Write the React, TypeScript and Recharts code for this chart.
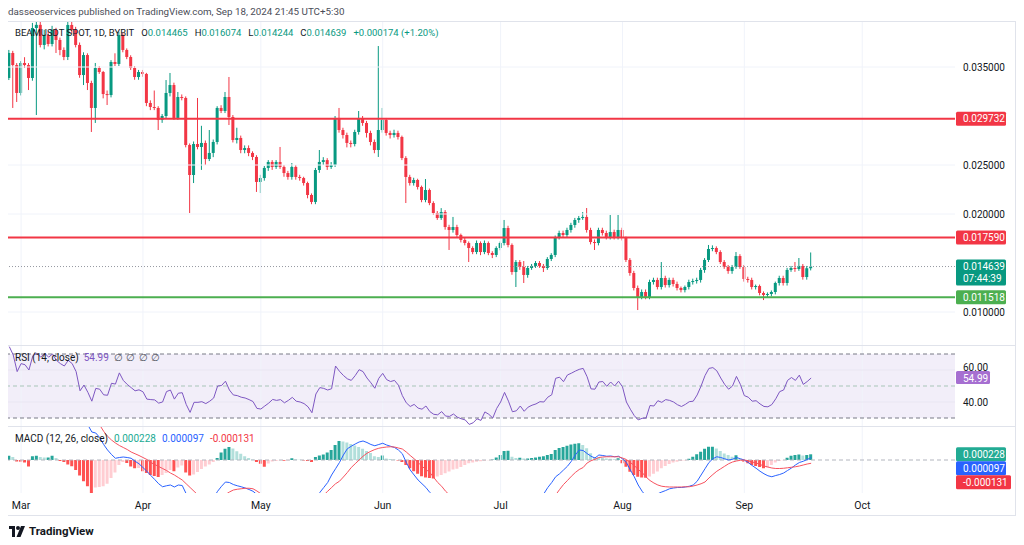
import React from "react";
import { Bar, Cell, ComposedChart, Line, ReferenceArea, ReferenceLine, XAxis, YAxis } from "recharts";

const UP = "#089981";
const DOWN = "#f23645";
const GRID = "#f0f3fa";
const TEXT = "#131722";
const FONT = "Roboto, 'Noto Sans', sans-serif";

// one candle per day, day 0 = 2024-02-27, last = 2024-09-18
const monthStarts = [3, 34, 64, 95, 125, 156, 187, 217];
const monthNames = ["Mar", "Apr", "May", "Jun", "Jul", "Aug", "Sep", "Oct"];

const opens = [
  0.03388, 0.03643, 0.0352, 0.03235, 0.03541, 0.0352, 0.03388, 0.03898, 0.0393, 0.03725,
  0.03827, 0.03735, 0.03878, 0.03776, 0.03674, 0.03602, 0.03929, 0.03878, 0.03725, 0.03418,
  0.03622, 0.03337, 0.03082, 0.0349, 0.03449, 0.03224, 0.03214, 0.03551, 0.03531, 0.03827,
  0.03674, 0.03602, 0.0349, 0.03398, 0.03449, 0.03429, 0.03133, 0.03092, 0.03082, 0.02959,
  0.03, 0.03235, 0.03316, 0.0298, 0.03194, 0.03184, 0.02704, 0.02398, 0.02714, 0.02684,
  0.02725, 0.02561, 0.02623, 0.02735, 0.03082, 0.03051, 0.03194, 0.0299, 0.02755, 0.02776,
  0.02653, 0.02673, 0.02623, 0.02582, 0.02327, 0.02367, 0.0247, 0.02531, 0.0248, 0.02531,
  0.0248, 0.02418, 0.02378, 0.0248, 0.02378, 0.02367, 0.02316, 0.02194, 0.02123, 0.02449,
  0.02531, 0.0255, 0.0248, 0.025, 0.0298, 0.02857, 0.02806, 0.02725, 0.02714, 0.02837,
  0.0298, 0.02929, 0.02827, 0.02735, 0.02653, 0.02857, 0.02959, 0.02827, 0.02806, 0.02827,
  0.02786, 0.02571, 0.02378, 0.02316, 0.02347, 0.02276, 0.02143, 0.02245, 0.02112, 0.0201,
  0.01959, 0.0202, 0.01867, 0.01837, 0.01867, 0.01786, 0.01735, 0.01704, 0.01653, 0.01612,
  0.01704, 0.01612, 0.01704, 0.01602, 0.01582, 0.01653, 0.01704, 0.01857, 0.01684, 0.01408,
  0.0151, 0.01459, 0.01378, 0.01449, 0.0147, 0.015, 0.0147, 0.01449, 0.01541, 0.01582,
  0.01765, 0.01806, 0.01786, 0.01837, 0.01888, 0.01939, 0.01959, 0.0197, 0.01837, 0.01714,
  0.01704, 0.01837, 0.01806, 0.01765, 0.01816, 0.01765, 0.01837, 0.01755, 0.01531, 0.01398,
  0.01245, 0.01153, 0.01204, 0.01153, 0.01306, 0.01327, 0.01255, 0.01347, 0.01275, 0.01327,
  0.01286, 0.01245, 0.01224, 0.01255, 0.01306, 0.01316, 0.01327, 0.01429, 0.01531, 0.01643,
  0.01653, 0.01612, 0.0151, 0.01459, 0.01418, 0.01459, 0.01571, 0.01459, 0.01337, 0.01327,
  0.01255, 0.01265, 0.01194, 0.01174, 0.01184, 0.01204, 0.01296, 0.01347, 0.01296, 0.01429,
  0.01449, 0.01439, 0.0147, 0.01357, 0.014465,
];
const highs = [
  0.03674, 0.03665, 0.0354, 0.0356, 0.036, 0.0354, 0.0395, 0.04, 0.0402, 0.0388,
  0.0386, 0.0392, 0.039, 0.038, 0.037, 0.0397, 0.0398, 0.0391, 0.0375, 0.0365,
  0.0364, 0.0336, 0.03541, 0.0351, 0.0346, 0.0326, 0.0357, 0.0364, 0.0386, 0.0385,
  0.0369, 0.0362, 0.0351, 0.0347, 0.0347, 0.0344, 0.0316, 0.0326, 0.031, 0.0302,
  0.03367, 0.03439, 0.0334, 0.03245, 0.0322, 0.032, 0.0272, 0.0274, 0.03184, 0.029,
  0.0275, 0.02857, 0.0276, 0.031, 0.0311, 0.03245, 0.03398, 0.0301, 0.0288, 0.028,
  0.027, 0.027, 0.0264, 0.026, 0.024, 0.0249, 0.0255, 0.0255, 0.0255, 0.02684,
  0.025, 0.0244, 0.0252, 0.025, 0.024, 0.0238, 0.0233, 0.0221, 0.0247, 0.02653,
  0.0258, 0.0257, 0.0253, 0.03, 0.03082, 0.0288, 0.0283, 0.0275, 0.0286, 0.03051,
  0.03, 0.0295, 0.0285, 0.0276, 0.03714, 0.03082, 0.0298, 0.0285, 0.0286, 0.0285,
  0.028, 0.0259, 0.024, 0.0237, 0.0236, 0.0229, 0.02357, 0.0226, 0.0213, 0.0203,
  0.0206, 0.0204, 0.0189, 0.0197, 0.0189, 0.018, 0.0176, 0.0172, 0.0167, 0.0173,
  0.0172, 0.0173, 0.0172, 0.0162, 0.0167, 0.0172, 0.01939, 0.0188, 0.017, 0.0153,
  0.0153, 0.0152, 0.0147, 0.0149, 0.0152, 0.0152, 0.0149, 0.0156, 0.016, 0.0178,
  0.0183, 0.0183, 0.0186, 0.0191, 0.0196, 0.0198, 0.0202, 0.02061, 0.0186, 0.0174,
  0.0186, 0.0186, 0.0183, 0.0199, 0.0184, 0.0199, 0.0186, 0.0177, 0.0155, 0.0142,
  0.0127, 0.0123, 0.0123, 0.0133, 0.0135, 0.0135, 0.0151, 0.0137, 0.0135, 0.0135,
  0.0131, 0.0126, 0.0127, 0.0133, 0.0134, 0.0135, 0.0145, 0.0155, 0.01684, 0.0168,
  0.0167, 0.0163, 0.0153, 0.0148, 0.0148, 0.01612, 0.0159, 0.0148, 0.0136, 0.0135,
  0.0128, 0.0128, 0.0121, 0.012, 0.0122, 0.0131, 0.0137, 0.0137, 0.0145, 0.0147,
  0.0151, 0.01551, 0.0149, 0.0147, 0.016074,
];
const lows = [
  0.03367, 0.03082, 0.03143, 0.0321, 0.0349, 0.03265, 0.0336, 0.0301, 0.037, 0.0368,
  0.0371, 0.0371, 0.03643, 0.0362, 0.0357, 0.03571, 0.0384, 0.037, 0.0339, 0.03316,
  0.03265, 0.02837, 0.02929, 0.0343, 0.0318, 0.03112, 0.0319, 0.0351, 0.0351, 0.0365,
  0.0358, 0.0347, 0.0337, 0.0337, 0.034, 0.031, 0.0306, 0.0306, 0.02857, 0.0293,
  0.0298, 0.032, 0.0296, 0.0296, 0.0316, 0.0268, 0.0201, 0.02316, 0.0266, 0.0245,
  0.025, 0.0254, 0.0258, 0.0271, 0.0303, 0.0303, 0.02908, 0.0273, 0.0272, 0.0262,
  0.0262, 0.0259, 0.0255, 0.02225, 0.02214, 0.0234, 0.0244, 0.0245, 0.0246, 0.0246,
  0.0238, 0.0235, 0.0235, 0.0235, 0.0234, 0.0229, 0.0216, 0.021, 0.021, 0.0242,
  0.025, 0.0245, 0.0246, 0.0248, 0.0283, 0.0277, 0.0268, 0.0268, 0.0269, 0.0281,
  0.029, 0.0278, 0.027, 0.0262, 0.02582, 0.0283, 0.028, 0.0277, 0.0278, 0.0276,
  0.0255, 0.02112, 0.0229, 0.0229, 0.0225, 0.0212, 0.0212, 0.0209, 0.0199, 0.0194,
  0.0194, 0.0184, 0.01633, 0.0181, 0.0176, 0.0171, 0.0168, 0.0151, 0.0159, 0.0159,
  0.0158, 0.0159, 0.0158, 0.0155, 0.0156, 0.0163, 0.0168, 0.0166, 0.0138, 0.01255,
  0.0143, 0.01296, 0.0135, 0.0143, 0.0145, 0.0145, 0.01408, 0.0143, 0.0152, 0.0156,
  0.0174, 0.0176, 0.0176, 0.0181, 0.0186, 0.0191, 0.0194, 0.0181, 0.0169, 0.01633,
  0.0168, 0.0178, 0.0174, 0.0174, 0.0174, 0.0174, 0.0173, 0.0151, 0.0137, 0.0122,
  0.0102, 0.0113, 0.0113, 0.0113, 0.0128, 0.0123, 0.0123, 0.0125, 0.0125, 0.0126,
  0.0122, 0.012, 0.012, 0.0123, 0.0128, 0.0129, 0.013, 0.014, 0.0151, 0.0162,
  0.0159, 0.0149, 0.0144, 0.0139, 0.0139, 0.0144, 0.0144, 0.0131, 0.013, 0.0123,
  0.0123, 0.0117, 0.01122, 0.0115, 0.0116, 0.0118, 0.0127, 0.0127, 0.0127, 0.0141,
  0.0141, 0.0142, 0.0133, 0.0133, 0.014244,
];
const closes = [
  0.03643, 0.0352, 0.03235, 0.03541, 0.0352, 0.03388, 0.03898, 0.0393, 0.03725, 0.03827,
  0.03735, 0.03878, 0.03776, 0.03674, 0.03602, 0.03929, 0.03878, 0.03725, 0.03418, 0.03622,
  0.03337, 0.03082, 0.0349, 0.03449, 0.03224, 0.03214, 0.03551, 0.03531, 0.03827, 0.03674,
  0.03602, 0.0349, 0.03398, 0.03449, 0.03429, 0.03133, 0.03092, 0.03082, 0.02959, 0.03,
  0.03235, 0.03316, 0.0298, 0.03194, 0.03184, 0.02704, 0.02398, 0.02714, 0.02684, 0.02725,
  0.02561, 0.02623, 0.02735, 0.03082, 0.03051, 0.03194, 0.0299, 0.02755, 0.02776, 0.02653,
  0.02673, 0.02623, 0.02582, 0.02327, 0.02367, 0.0247, 0.02531, 0.0248, 0.02531, 0.0248,
  0.02418, 0.02378, 0.0248, 0.02378, 0.02367, 0.02316, 0.02194, 0.02123, 0.02449, 0.02531,
  0.0255, 0.0248, 0.025, 0.0298, 0.02857, 0.02806, 0.02725, 0.02714, 0.02837, 0.0298,
  0.02929, 0.02827, 0.02735, 0.02653, 0.02857, 0.02959, 0.02827, 0.02806, 0.02827, 0.02786,
  0.02571, 0.02378, 0.02316, 0.02347, 0.02276, 0.02143, 0.02245, 0.02112, 0.0201, 0.01959,
  0.0202, 0.01867, 0.01837, 0.01867, 0.01786, 0.01735, 0.01704, 0.01653, 0.01612, 0.01704,
  0.01612, 0.01704, 0.01602, 0.01582, 0.01653, 0.01704, 0.01857, 0.01684, 0.01408, 0.0151,
  0.01459, 0.01378, 0.01449, 0.0147, 0.015, 0.0147, 0.01449, 0.01541, 0.01582, 0.01765,
  0.01806, 0.01786, 0.01837, 0.01888, 0.01939, 0.01959, 0.0197, 0.01837, 0.01714, 0.01704,
  0.01837, 0.01806, 0.01765, 0.01816, 0.01765, 0.01837, 0.01755, 0.01531, 0.01398, 0.01245,
  0.01153, 0.01204, 0.01153, 0.01306, 0.01327, 0.01255, 0.01347, 0.01275, 0.01327, 0.01286,
  0.01245, 0.01224, 0.01255, 0.01306, 0.01316, 0.01327, 0.01429, 0.01531, 0.01643, 0.01653,
  0.01612, 0.0151, 0.01459, 0.01418, 0.01459, 0.01571, 0.01459, 0.01337, 0.01327, 0.01255,
  0.01265, 0.01194, 0.01174, 0.01184, 0.01204, 0.01296, 0.01347, 0.01296, 0.01429, 0.01449,
  0.01439, 0.0147, 0.01357, 0.014465, 0.014639,
];

const rsi14 = [
  74.6, 69.4, 59, 64, 63.3, 60, 69, 70.5, 68, 70.5,
  68, 70, 66, 64, 62.5, 66, 64, 59, 47, 50.6,
  46, 40.5, 48.5, 48, 44.5, 44.2, 51.7, 51.2, 58.2, 53.5,
  51, 49, 47, 47.6, 46.4, 41.8, 41.5, 41.3, 39.3, 40,
  46.5, 47.5, 41.8, 45.5, 45.8, 38.5, 33.5, 39.8, 39.8, 40.2,
  39, 40.5, 42.5, 50, 50.3, 53, 47.5, 44.4, 44, 43,
  42.5, 41.5, 40.3, 36, 35.6, 37.5, 39.3, 41.6, 41, 41.5,
  39.5, 41, 42.9, 40.5, 40, 39, 37, 33.3, 45, 49,
  48.5, 47.5, 48.3, 62.5, 59.2, 56.6, 54.5, 53.5, 56.5, 60.2,
  59, 55, 52, 48.6, 54.8, 57.9, 54, 52.8, 53.5, 50.5,
  44, 39.5, 37.2, 38.5, 36.2, 35.5, 37.5, 34, 32.3, 32,
  34, 31.2, 31, 32.5, 30.5, 29.5, 28.8, 26, 27, 29.5,
  28.5, 33.8, 32.3, 30, 36, 40, 46, 40.5, 33.9, 34.5,
  37.5, 34.2, 36.8, 38, 38.8, 40.2, 40, 43, 44.5, 54.8,
  55.5, 52.7, 56.9, 58, 59.3, 60.4, 61, 55.8, 48.2, 48,
  52.5, 52.8, 49.8, 52.5, 50, 53, 49.5, 40, 35.5, 31.5,
  28.8, 29.8, 30, 37.8, 37.5, 40.8, 39.8, 41.5, 41, 40,
  38.3, 37.2, 38.5, 40.2, 40.5, 44.4, 50, 56.5, 61, 61.5,
  59.5, 55, 51, 48, 50, 56, 51, 44, 43, 40.5,
  40.8, 38.8, 37.2, 37, 38.4, 42, 46.5, 47.5, 53.5, 55.3,
  53.5, 56.8, 51, 52.8, 54.99,
];

const macdLine = [
  0.0026, 0.00265, 0.00255, 0.00255, 0.0025, 0.0024, 0.00265, 0.0028, 0.00285, 0.0029,
  0.00292, 0.003, 0.00298, 0.00292, 0.00285, 0.0029, 0.00285, 0.0027, 0.0024, 0.0021,
  0.0014, 0.00112, 0.00108, 0.0009, 0.00062, 0.0004, 0.00022, 0.00007, 0.0001, 0.00012,
  0.0001, 0.00007, -0.00005, -0.00015, -0.0003, -0.00045, -0.00062, -0.00078, -0.00095, -0.00107,
  -0.00103, -0.001, -0.00108, -0.001, -0.00102, -0.00135, -0.00165, -0.00165, -0.00168, -0.0017,
  -0.00172, -0.00165, -0.0015, -0.00125, -0.00105, -0.00088, -0.0009, -0.00098, -0.00103, -0.00107,
  -0.00112, -0.00118, -0.00125, -0.00138, -0.0015, -0.0016, -0.00162, -0.00163, -0.00162, -0.00162,
  -0.00163, -0.00163, -0.00158, -0.0016, -0.00162, -0.00165, -0.0017, -0.00178, -0.0016, -0.0013,
  -0.0011, -0.0009, -0.0006, -0.00035, -0.0001, 0.0002, 0.00045, 0.00055, 0.00064, 0.00072,
  0.00076, 0.0007, 0.00062, 0.00057, 0.00062, 0.00067, 0.0006, 0.00055, 0.0005, 0.0004,
  0.00025, -0.0001, -0.0004, -0.0006, -0.0008, -0.00095, -0.0011, -0.0013, -0.00145, -0.0016,
  -0.0017, -0.0018, -0.00195, -0.00205, -0.00215, -0.00225, -0.00232, -0.0024, -0.00245, -0.00245,
  -0.00245, -0.0024, -0.0024, -0.00235, -0.00228, -0.0022, -0.00205, -0.002, -0.00215, -0.00212,
  -0.0021, -0.0021, -0.002, -0.0019, -0.00175, -0.0016, -0.00135, -0.0011, -0.0009, -0.00067,
  -0.00055, -0.0004, -0.00025, -0.00005, 0.0002, 0.0004, 0.00038, 0.00026, 0.00015, 0.00008,
  0.0002, 0.00018, 0.00015, 0.00016, 0.00013, 0.00015, 0.00005, -0.0001, -0.0004, -0.00067,
  -0.001, -0.00125, -0.00145, -0.0015, -0.0014, -0.00135, -0.00128, -0.00122, -0.00115, -0.00112,
  -0.0011, -0.0011, -0.00108, -0.00105, -0.001, -0.00085, -0.0006, -0.00035, -0.0001, 0.00005,
  0.00013, 0.0001, 0.00005, 0, 0.00003, 0.0001, 0.00005, 0, -0.0001, -0.00022,
  -0.00033, -0.00045, -0.00055, -0.00063, -0.00067, -0.00062, -0.00058, -0.00052, -0.00042, -0.00032,
  -0.0002, -0.0001, -0.00005, 0.00002, 0.000097,
];
const signalLine = [
  0.00245, 0.0025, 0.00255, 0.00258, 0.0026, 0.00262, 0.00262, 0.00265, 0.00268, 0.00272,
  0.00275, 0.00278, 0.00282, 0.00285, 0.00287, 0.00288, 0.00288, 0.00285, 0.00275, 0.00258,
  0.00235, 0.00205, 0.00175, 0.0014, 0.00115, 0.00095, 0.0008, 0.00068, 0.00058, 0.0005,
  0.00042, 0.00032, 0.00025, 0.00018, 0.0001, 0.00002, -0.0001, -0.00018, -0.00026, -0.00034,
  -0.00042, -0.00052, -0.0006, -0.0007, -0.0008, -0.00095, -0.0011, -0.00125, -0.0014, -0.0015,
  -0.00155, -0.00158, -0.00158, -0.00155, -0.00148, -0.00138, -0.00128, -0.0012, -0.00117, -0.00115,
  -0.00113, -0.00113, -0.00115, -0.00124, -0.00135, -0.00145, -0.0015, -0.00155, -0.00158, -0.0016,
  -0.00162, -0.00163, -0.00162, -0.00162, -0.00162, -0.00163, -0.00165, -0.00168, -0.00165, -0.00155,
  -0.0014, -0.00125, -0.0011, -0.00095, -0.00085, -0.00068, -0.0005, -0.0003, -0.00015, 0,
  0.00015, 0.00027, 0.00035, 0.00042, 0.00047, 0.0005, 0.00052, 0.00053, 0.00052, 0.00048,
  0.00044, 0.00032, 0.00018, 0.00005, -0.0001, -0.00025, -0.00038, -0.0005, -0.0007, -0.0009,
  -0.00105, -0.00125, -0.0014, -0.00155, -0.00168, -0.0018, -0.0019, -0.002, -0.0021, -0.00218,
  -0.00225, -0.0023, -0.00235, -0.00238, -0.0024, -0.00242, -0.0024, -0.00238, -0.00236, -0.00234,
  -0.00232, -0.0023, -0.00228, -0.00224, -0.00218, -0.0021, -0.002, -0.00185, -0.00165, -0.0014,
  -0.00118, -0.00098, -0.00082, -0.00065, -0.0005, -0.00038, -0.0003, -0.00012, -0.00003, 0.00003,
  0.0001, 0.00012, 0.00013, 0.00013, 0.00013, 0.00013, 0.00008, 0.00002, -0.0001, -0.00022,
  -0.00038, -0.0005, -0.00068, -0.00082, -0.00092, -0.001, -0.00105, -0.00107, -0.00108, -0.00108,
  -0.00108, -0.00108, -0.00107, -0.00107, -0.00104, -0.001, -0.00095, -0.00088, -0.00072, -0.00058,
  -0.00045, -0.00035, -0.00025, -0.00015, -0.00008, -0.00004, -0.00001, 0, -0.00003, -0.00008,
  -0.00012, -0.00018, -0.00024, -0.00028, -0.00032, -0.00034, -0.00034, -0.00033, -0.00031, -0.00029,
  -0.00027, -0.00024, -0.0002, -0.00016, -0.000131,
];
const macdHist = [
  0.00017, 0.00012, -0.00006, -0.00007, -0.0001, -0.00026, 0.00015, 0.00017, 0.00012, 0.0001,
  0.0001, 0.00017, 0.00008, -0.00004, -0.00008, -0.00018, -0.00025, -0.0004, -0.00062, -0.00085,
  -0.00105, -0.00135, -0.0011, -0.00108, -0.00105, -0.00095, -0.00072, -0.0005, -0.0002, -0.00008,
  -0.00012, -0.00026, -0.00033, -0.00032, -0.00045, -0.00052, -0.0006, -0.00064, -0.00068, -0.0006,
  -0.00052, -0.0004, -0.00045, -0.0003, -0.00022, -0.0005, -0.00062, -0.00058, -0.00048, -0.00036,
  -0.00026, -0.00018, -0.00008, 0.00008, 0.0003, 0.00045, 0.00052, 0.00046, 0.00035, 0.00025,
  0.00015, 0.00008, 0.00002, -0.00008, -0.00015, -0.00027, -0.00014, -0.00006, -0.00004, -0.00002,
  -0.00003, -0.00002, 0.00007, 0.00003, 0.00001, -0.00002, -0.00004, -0.00008, 0.00012, 0.00018,
  0.00022, 0.0003, 0.0004, 0.0006, 0.00076, 0.00074, 0.0007, 0.00064, 0.00058, 0.00052,
  0.00045, 0.00036, 0.00028, 0.00015, 0.00012, 0.00018, 0.00006, 0.00004, 0.00002, -0.00002,
  -0.00008, -0.0002, -0.00033, -0.00045, -0.00055, -0.00065, -0.0007, -0.00072, -0.00074, -0.00066,
  -0.0006, -0.00053, -0.00046, -0.00038, -0.00035, -0.00028, -0.0002, -0.00013, -0.0001, -0.00007,
  -0.00005, -0.00003, -0.00001, 0.00002, 0.0001, 0.0002, 0.00036, 0.00037, 0.00013, 0.00008,
  0.00009, 0.00006, 0.00006, 0.00008, 0.0001, 0.00013, 0.00015, 0.0002, 0.00024, 0.0004,
  0.00048, 0.00052, 0.00057, 0.00062, 0.00065, 0.00067, 0.0006, 0.00047, 0.00027, 0.00012,
  0.0001, 0.00009, 0.00006, 0.00005, 0.00003, 0.00007, -0.00013, -0.00027, -0.00047, -0.0006,
  -0.00067, -0.0007, -0.00071, -0.00066, -0.00055, -0.00046, -0.00033, -0.00024, -0.00016, -0.0001,
  -0.00007, -0.00004, -0.00002, 0.00005, 0.00013, 0.00023, 0.00033, 0.00045, 0.00053, 0.00053,
  0.00046, 0.00036, 0.00026, 0.0002, 0.00013, 0.00019, 0.00005, -0.00007, -0.00013, -0.0002,
  -0.00024, -0.00028, -0.00033, -0.0003, -0.0002, -0.0001, -0.00004, -0.00001, 0.00009, 0.00017,
  0.0002, 0.00022, 0.00018, 0.0002, 0.000228,
];

const priceGrid = [0.035, 0.025, 0.02, 0.01];
const resistanceHigh = 0.029732;
const resistanceLow = 0.01759;
const supportLevel = 0.011518;
const lastPrice = 0.014639;
const countdown = "07:44:39";
const rsiGrid = [60, 40];
const lastRsi = 54.99;
const lastHist = 0.000228;
const lastMacd = 0.000097;
const lastSignal = -0.000131;

const rows = closes.map((c, i) => ({
  day: i,
  open: opens[i],
  high: highs[i],
  low: lows[i],
  close: c,
  range: [lows[i], highs[i]],
  rsi: rsi14[i],
  macd: macdLine[i],
  signal: signalLine[i],
  hist: macdHist[i],
}));

const X_DOMAIN: [number, number] = [-0.33, 240.6];
const PRICE_DOMAIN: [number, number] = [0.006531, 0.039592];

function Candle(props: any) {
  const { x, y, width, height, payload } = props;
  if (x == null || y == null || !payload) return <g />;
  const top = Math.min(y, y + height);
  const h = Math.abs(height);
  const span = payload.high - payload.low;
  const py = (v: number) => (span === 0 ? top : top + ((payload.high - v) / span) * h);
  const up = payload.close >= payload.open;
  const color = up ? UP : DOWN;
  const b1 = py(Math.max(payload.open, payload.close));
  const b2 = py(Math.min(payload.open, payload.close));
  const cx = x + width / 2;
  return (
    <g>
      <line x1={cx} x2={cx} y1={top} y2={top + h} stroke={color} strokeWidth={1} />
      <rect x={x} y={b1} width={width} height={Math.max(1, b2 - b1)} fill={color} />
    </g>
  );
}

function Tag({ x, y, w, h = 14, fill, lines }: any) {
  return (
    <g>
      <rect x={x + 1} y={y - 7} width={w} height={h} rx={1.5} fill={fill} />
      {lines.map((t: string, k: number) => (
        <text key={k} x={x + 8} y={y + k * 12} dy="0.35em" fill="#fff" fontSize={10} fontFamily={FONT}>
          {t}
        </text>
      ))}
    </g>
  );
}

function PriceTick(props: any) {
  const { x, y, payload } = props;
  const v = payload.value;
  if (v === resistanceHigh || v === resistanceLow) return <Tag x={x} y={y} w={50} fill={DOWN} lines={[v.toFixed(6)]} />;
  if (v === supportLevel) return <Tag x={x} y={y} w={50} fill="#4caf50" lines={[v.toFixed(6)]} />;
  if (v === lastPrice) return <Tag x={x} y={y} w={50} h={26} fill={UP} lines={[v.toFixed(6), countdown]} />;
  return (
    <text x={x + 8} y={y} dy="0.35em" fill={TEXT} fontSize={10} fontFamily={FONT}>
      {v.toFixed(6)}
    </text>
  );
}

function RsiTick(props: any) {
  const { x, y, payload } = props;
  const v = payload.value;
  if (v === lastRsi) return <Tag x={x} y={y} w={34} h={13} fill="#a66fd1" lines={[v.toFixed(2)]} />;
  // the 60.00 label sits just above the value tag, as on the reference
  const lift = v === 60 ? -3 : 0;
  return (
    <text x={x + 8} y={y + lift} dy="0.35em" fill={TEXT} fontSize={10} fontFamily={FONT}>
      {v.toFixed(2)}
    </text>
  );
}

function MacdTick(props: any) {
  const { x, y } = props;
  return (
    <g>
      <Tag x={x} y={y} w={50} fill="#22ab94" lines={[lastHist.toFixed(6)]} />
      <Tag x={x} y={y + 14} w={50} fill="#2962ff" lines={[lastMacd.toFixed(6)]} />
      <Tag x={x} y={y + 28} w={55} fill={DOWN} lines={[lastSignal.toFixed(6)]} />
    </g>
  );
}

function TimeTick(props: any) {
  const { x, y, payload } = props;
  return (
    <text x={x} y={y + 12} dy="0.35em" textAnchor="middle" fill={TEXT} fontSize={10.5} fontFamily={FONT}>
      {monthNames[monthStarts.indexOf(payload.value)]}
    </text>
  );
}

function histColor(i: number) {
  const h = macdHist[i];
  const p = i > 0 ? macdHist[i - 1] : 0;
  if (h >= 0) return h >= p ? "#26a69a" : "#b2dfdb";
  return h < p ? "#ff5252" : "#ffcdd2";
}

const abs = (l: number, t: number): React.CSSProperties => ({ position: "absolute", left: l, top: t });
const M = { top: 0, right: 0, bottom: 0, left: 0 };

export default function App() {
  return (
    <div style={{ position: "absolute", left: 0, top: 0, width: 1024, height: 545, background: "#fff", fontFamily: FONT, overflow: "hidden" }}>
      <div style={{ ...abs(8, 6), fontSize: 9.8, color: "#4a4d57", whiteSpace: "nowrap" }}>
        dasseoservices published on TradingView.com, Sep 18, 2024 21:45 UTC+5:30
      </div>

      <div style={abs(8, 22)}>
        <ComposedChart width={1007} height={324} data={rows} margin={M}>
          <XAxis type="number" dataKey="day" domain={X_DOMAIN} allowDataOverflow hide />
          <YAxis
            orientation="right"
            width={60}
            domain={PRICE_DOMAIN}
            allowDataOverflow
            ticks={[...priceGrid, resistanceHigh, resistanceLow, lastPrice, supportLevel]}
            interval={0}
            tick={<PriceTick />}
            tickSize={0}
            tickMargin={0}
            axisLine={false}
            tickLine={false}
          />
          {monthStarts.map((m) => (
            <ReferenceLine key={`v${m}`} x={m} stroke={GRID} />
          ))}
          {priceGrid.map((p) => (
            <ReferenceLine key={`h${p}`} y={p} stroke={GRID} />
          ))}
          <ReferenceLine y={lastPrice} stroke="#9598a1" strokeDasharray="1 2" />
          <Bar dataKey="range" barSize={3} shape={Candle} isAnimationActive={false} />
          <ReferenceLine y={resistanceHigh} stroke={DOWN} strokeWidth={2} />
          <ReferenceLine y={resistanceLow} stroke={DOWN} strokeWidth={2} />
          <ReferenceLine y={supportLevel} stroke="#4caf50" strokeWidth={2} />
        </ComposedChart>
      </div>

      <div style={{ ...abs(15, 27), fontSize: 9.5, color: TEXT, whiteSpace: "nowrap", display: "flex", gap: 7 }}>
        <span>BEAMUSDT SPOT, 1D, BYBIT</span>
        <span>O<span style={{ color: UP }}>0.014465</span></span>
        <span>H<span style={{ color: UP }}>0.016074</span></span>
        <span>L<span style={{ color: UP }}>0.014244</span></span>
        <span>C<span style={{ color: UP }}>0.014639</span></span>
        <span style={{ color: UP }}>+0.000174 (+1.20%)</span>
      </div>

      <div style={abs(8, 346)}>
        <ComposedChart width={1007} height={80} data={rows} margin={M}>
          <XAxis type="number" dataKey="day" domain={X_DOMAIN} allowDataOverflow hide />
          <YAxis
            orientation="right"
            width={60}
            domain={[25, 75]}
            allowDataOverflow
            ticks={[...rsiGrid, lastRsi]}
            interval={0}
            tick={<RsiTick />}
            tickSize={0}
            tickMargin={0}
            axisLine={false}
            tickLine={false}
          />
          {monthStarts.map((m) => (
            <ReferenceLine key={`v${m}`} x={m} stroke={GRID} />
          ))}
          <ReferenceArea y1={30} y2={70} fill="#7e57c2" fillOpacity={0.1} stroke="none" />
          {rsiGrid.map((g) => (
            <ReferenceLine key={`g${g}`} y={g} stroke="#e9e6f2" />
          ))}
          <ReferenceLine y={70} stroke="#787b86" strokeDasharray="4 3" />
          <ReferenceLine y={50} stroke="#a8c5b8" strokeDasharray="4 3" />
          <ReferenceLine y={30} stroke="#787b86" strokeDasharray="4 3" />
          <Line dataKey="rsi" stroke="#7e57c2" strokeWidth={1} dot={false} isAnimationActive={false} />
        </ComposedChart>
      </div>

      <div style={{ ...abs(15, 352), fontSize: 10, color: TEXT, whiteSpace: "nowrap", display: "flex", gap: 5 }}>
        <span>RSI (14, close)</span>
        <span style={{ color: "#7e57c2" }}>{lastRsi.toFixed(2)}</span>
        <span style={{ color: "#50535e", wordSpacing: 1 }}>∅ ∅ ∅ ∅</span>
      </div>

      <div style={abs(8, 426)}>
        <ComposedChart width={1007} height={89} data={rows} margin={M}>
          <XAxis
            type="number"
            dataKey="day"
            domain={X_DOMAIN}
            allowDataOverflow
            ticks={monthStarts}
            interval={0}
            height={22}
            tick={<TimeTick />}
            tickSize={0}
            tickMargin={0}
            axisLine={false}
            tickLine={false}
          />
          <YAxis
            orientation="right"
            width={60}
            domain={[-0.00132, 0.00136]}
            allowDataOverflow
            ticks={[lastHist]}
            interval={0}
            tick={<MacdTick />}
            tickSize={0}
            tickMargin={0}
            axisLine={false}
            tickLine={false}
          />
          {monthStarts.map((m) => (
            <ReferenceLine key={`v${m}`} x={m} stroke={GRID} />
          ))}
          <ReferenceLine y={0} stroke="#b2b5be" strokeDasharray="4 3" />
          <Bar dataKey="hist" barSize={3} isAnimationActive={false}>
            {rows.map((r) => (
              <Cell key={r.day} fill={histColor(r.day)} />
            ))}
          </Bar>
          <Line dataKey="macd" stroke="#2962ff" strokeWidth={1} dot={false} isAnimationActive={false} />
          <Line dataKey="signal" stroke="#f7525f" strokeWidth={1} dot={false} isAnimationActive={false} />
        </ComposedChart>
      </div>

      <div style={{ ...abs(15, 433), fontSize: 10, color: TEXT, whiteSpace: "nowrap", display: "flex", gap: 6 }}>
        <span>MACD (12, 26, close)</span>
        <span style={{ color: "#22ab94" }}>{lastHist.toFixed(6)}</span>
        <span style={{ color: "#2962ff" }}>{lastMacd.toFixed(6)}</span>
        <span style={{ color: DOWN }}>{lastSignal.toFixed(6)}</span>
      </div>

      {/* pane frame */}
      <div style={{ position: "absolute", left: 8, top: 21, width: 1007, height: 1, background: "#e0e3eb" }} />
      <div style={{ position: "absolute", left: 8, top: 345, width: 1007, height: 1, background: "#e0e3eb" }} />
      <div style={{ position: "absolute", left: 8, top: 426, width: 1007, height: 1, background: "#e0e3eb" }} />
      <div style={{ position: "absolute", left: 8, top: 515, width: 1007, height: 1, background: "#e0e3eb" }} />
      <div style={{ position: "absolute", left: 1015, top: 21, width: 1, height: 495, background: "#e0e3eb" }} />

      <div style={{ ...abs(9, 524), display: "flex", alignItems: "center", gap: 4 }}>
        <svg width={16} height={11} viewBox="0 0 16 11">
          <path d="M0 0H6V11H3V3H0Z" fill={TEXT} />
          <circle cx={9} cy={2} r={2} fill={TEXT} />
          <path d="M12 0H16L11.5 11H7.5Z" fill={TEXT} />
        </svg>
        <span style={{ fontSize: 11.5, fontWeight: 700, color: TEXT }}>TradingView</span>
      </div>
    </div>
  );
}
